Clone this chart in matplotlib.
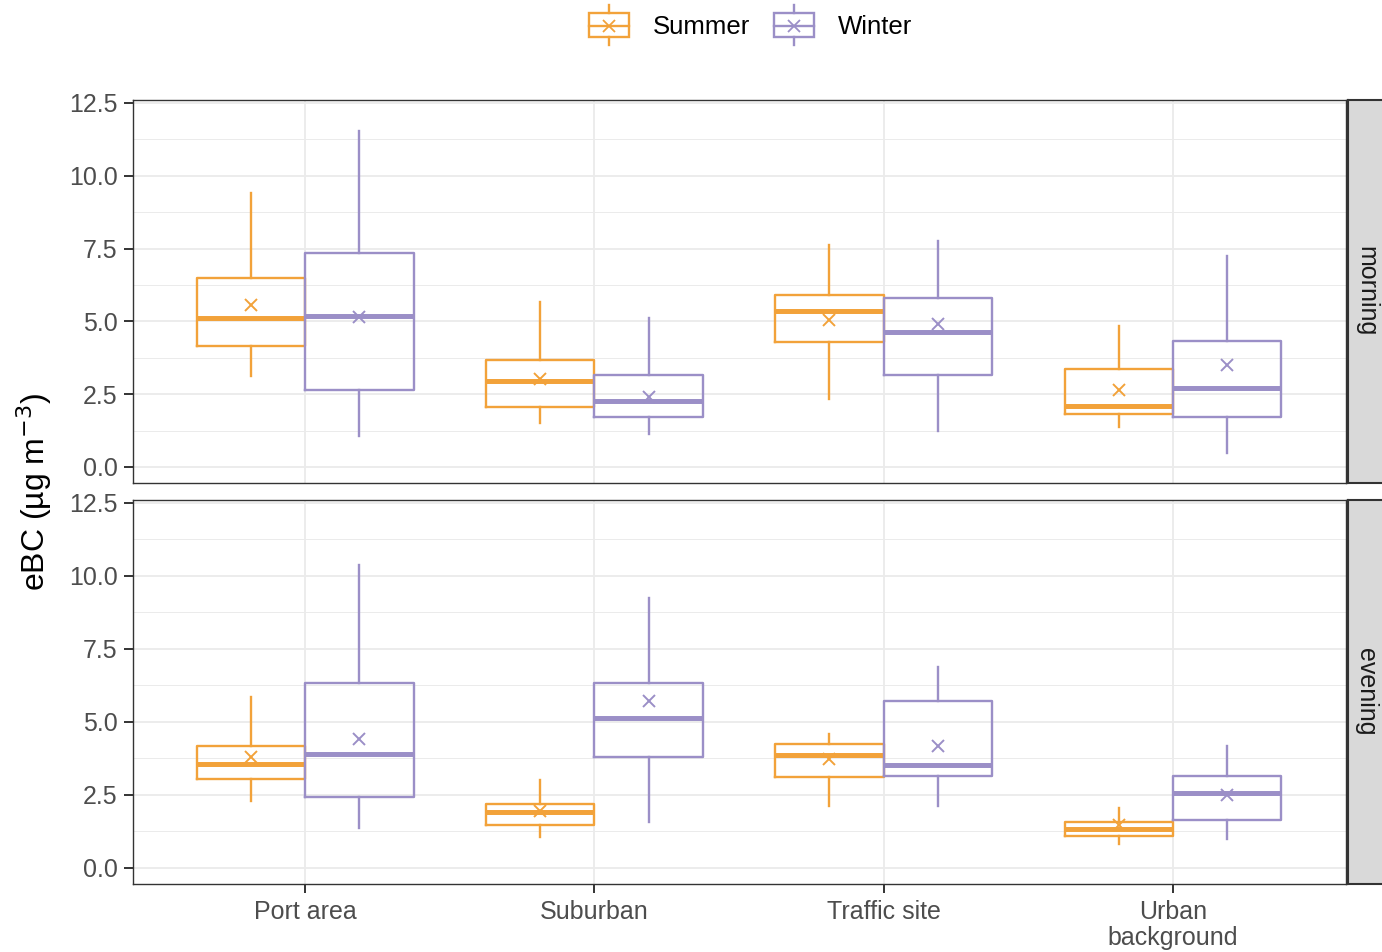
import matplotlib.pyplot as plt
import matplotlib.ticker as mticker
from matplotlib.legend_handler import HandlerBase
from matplotlib.patches import Rectangle
from matplotlib.lines import Line2D

plt.rcParams['font.family'] = ['Liberation Sans', 'DejaVu Sans']

sites = ["Port area", "Suburban", "Traffic site", "Urban\nbackground"]
seasons = ["Summer", "Winter"]
periods = ["morning", "evening"]
season_colors = {"Summer": "#F2A23A", "Winter": "#9B8FC7"}
y_ticks = [0.0, 2.5, 5.0, 7.5, 10.0, 12.5]

# rows: lower whisker, Q1, median, Q3, upper whisker, mean -- columns follow sites
morning_summer = [
    [3.12, 1.51, 2.34, 1.37],
    [4.16, 2.06, 4.29, 1.82],
    [5.12, 2.95, 5.36, 2.09],
    [6.49, 3.67, 5.91, 3.37],
    [9.41, 5.67, 7.62, 4.84],
    [5.56, 3.02, 5.05, 2.64],
]
morning_winter = [
    [1.06, 1.13, 1.24, 0.48],
    [2.64, 1.72, 3.16, 1.72],
    [5.19, 2.27, 4.64, 2.71],
    [7.35, 3.16, 5.80, 4.33],
    [11.54, 5.12, 7.76, 7.25],
    [5.15, 2.40, 4.91, 3.50],
]
evening_summer = [
    [2.30, 1.06, 2.13, 0.82],
    [3.06, 1.48, 3.13, 1.10],
    [3.57, 1.92, 3.88, 1.34],
    [4.16, 2.20, 4.26, 1.58],
    [5.84, 3.02, 4.57, 2.06],
    [3.81, 1.96, 3.74, 1.48],
]
evening_winter = [
    [1.37, 1.58, 2.13, 1.00],
    [2.44, 3.81, 3.16, 1.65],
    [3.91, 5.15, 3.54, 2.58],
    [6.32, 6.32, 5.70, 3.16],
    [10.37, 9.24, 6.87, 4.16],
    [4.43, 5.70, 4.19, 2.51],
]

data = {
    ("morning", "Summer"): morning_summer,
    ("morning", "Winter"): morning_winter,
    ("evening", "Summer"): evening_summer,
    ("evening", "Winter"): evening_winter,
}

BOX_LW = 1.7
GRID = "#EBEBEB"
FRAME = "#333333"


def make_stats(rows):
    stats = []
    for i in range(len(sites)):
        stats.append({
            "whislo": rows[0][i], "q1": rows[1][i], "med": rows[2][i],
            "q3": rows[3][i], "whishi": rows[4][i], "mean": rows[5][i],
            "fliers": [],
        })
    return stats


class BoxKeyHandler(HandlerBase):
    # draws a tiny boxplot glyph as legend key
    def create_artists(self, legend, orig_handle, xdescent, ydescent,
                       width, height, fontsize, trans):
        c = orig_handle.get_color()
        x0, y0 = -xdescent, -ydescent
        cx = x0 + width / 2
        my = y0 + height * 0.45
        arts = [
            Rectangle((x0, y0), width, height, fill=False, edgecolor=c,
                      lw=BOX_LW, transform=trans),
            Line2D([x0, x0 + width], [my, my], color=c, lw=BOX_LW, transform=trans),
            Line2D([cx, cx], [y0 + height, y0 + height * 1.3], color=c,
                   lw=BOX_LW, transform=trans),
            Line2D([cx, cx], [y0 - height * 0.3, y0], color=c,
                   lw=BOX_LW, transform=trans),
            Line2D([cx], [my], marker='x', ms=8, mew=1.3, color=c,
                   linestyle='none', transform=trans),
        ]
        return arts


fig = plt.figure(figsize=(13.82, 9.52), dpi=100)

left = 133 / 1382
width = (1346 - 133) / 1382
panel_rows = [(100, 483), (500, 884)]
offsets = {"Summer": -0.1875, "Winter": 0.1875}
positions = list(range(1, len(sites) + 1))

axes = []
for period, (top_px, bot_px) in zip(periods, panel_rows):
    bottom = 1 - bot_px / 952
    h = (bot_px - top_px) / 952
    ax = fig.add_axes([left, bottom, width, h])
    axes.append(ax)

    for z, season in enumerate(seasons):
        col = season_colors[season]
        stats = make_stats(data[(period, season)])
        pos = [p + offsets[season] for p in positions]
        line = dict(color=col, lw=BOX_LW)
        ax.bxp(stats, positions=pos, widths=0.375, showmeans=True,
               showcaps=False, showfliers=False,
               boxprops=line, whiskerprops=line,
               medianprops=dict(color=col, lw=BOX_LW * 2.1, solid_capstyle='butt'),
               meanprops=dict(marker='x', markeredgecolor=col, markersize=9,
                              markeredgewidth=1.4, linestyle='none'),
               zorder=3 + z)

    ax.set_xlim(0.405, 4.598)
    ax.set_ylim(-0.55, 12.6)
    ax.set_yticks(y_ticks)
    ax.yaxis.set_major_formatter(mticker.FormatStrFormatter('%.1f'))
    ax.yaxis.set_minor_locator(mticker.MultipleLocator(1.25))
    ax.set_xticks(positions)
    ax.grid(which='major', color=GRID, lw=1.3, zorder=0)
    ax.grid(which='minor', axis='y', color=GRID, lw=0.7, zorder=0)
    ax.set_axisbelow(True)
    ax.tick_params(which='major', length=6.5, width=1.4, color=FRAME,
                   labelsize=18, labelcolor='#4D4D4D', pad=4.5)
    ax.tick_params(which='minor', length=0)
    for sp in ax.spines.values():
        sp.set_color(FRAME)
        sp.set_linewidth(1.0)

    # facet strip on the right
    sax = fig.add_axes([1348 / 1382, bottom, 0.05, h])
    sax.set_facecolor('#D9D9D9')
    sax.set_xticks([])
    sax.set_yticks([])
    for sp in sax.spines.values():
        sp.set_color(FRAME)
        sp.set_linewidth(1.5)
    sax.text(0.26, 0.5, period, rotation=-90, ha='center', va='center',
             fontsize=18, color='#1A1A1A', transform=sax.transAxes)

axes[0].set_xticklabels([])
axes[0].tick_params(axis='x', length=0)
axes[1].set_xticklabels(sites, linespacing=1.1)
axes[1].tick_params(axis='x', pad=5)

fig.text(0.025, 0.483, "eBC (µg m$^{-3}$)", rotation=90, ha='center',
         va='center', fontsize=23)

handles = [Line2D([], [], color=season_colors[s]) for s in seasons]
fig.legend(handles, seasons, loc='center', bbox_to_anchor=(0.543, 0.973),
           ncol=2, frameon=False, fontsize=18.5,
           handler_map={Line2D: BoxKeyHandler()},
           handlelength=1.56, handleheight=1.1, handletextpad=0.92,
           columnspacing=0.92)

fig.savefig("out.png", dpi=100)
